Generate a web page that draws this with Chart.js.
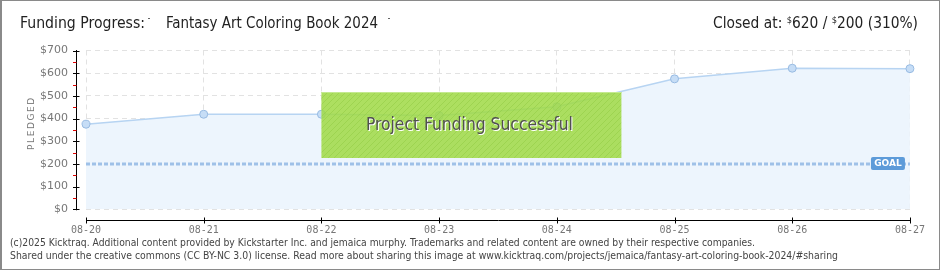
<!DOCTYPE html>
<html><head><meta charset="utf-8">
<script src="https://cdn.jsdelivr.net/npm/chart.js@4/dist/chart.umd.min.js"></script>
<style>
html,body{margin:0;padding:0;background:#fff;}
#wrap{position:relative;width:940px;height:270px;overflow:hidden;background:#fff;}
#c{position:absolute;left:0;top:0;}
.frame{position:absolute;left:0;top:0;width:940px;height:270px;box-sizing:border-box;border:1px solid #8a8a8a;border-left:2px solid #8a8a8a;pointer-events:none;}
.t{position:absolute;white-space:nowrap;transform-origin:0 0;}
.title{font-family:"DejaVu Sans Condensed","DejaVu Sans",sans-serif;font-size:15px;color:#222;top:14px;}
.title sup{font-size:9px;vertical-align:5px;}
.mark{position:absolute;width:2px;height:1px;background:#666;top:18px;}
.foot{font-family:"DejaVu Sans",sans-serif;font-size:10.5px;color:#444;left:10px;}
#pl{position:absolute;left:26px;top:150px;transform:rotate(-90deg);transform-origin:0 0;font-family:"DejaVu Sans",sans-serif;font-size:9px;letter-spacing:1.6px;color:#777;white-space:nowrap;}
</style></head>
<body>
<div id="wrap">
<canvas id="c" width="940" height="270"></canvas>
<div class="t title" data-w="125" style="left:20px;">Funding Progress:</div>
<div class="mark" style="left:148px;"></div>
<div class="t title" data-w="212" style="left:166px;">Fantasy Art Coloring Book 2024</div>
<div class="mark" style="left:388px;"></div>
<div class="t title" id="closed" data-w="205" style="left:713px;">Closed at: <sup>$</sup>620 / <sup>$</sup>200 (310%)</div>
<div id="pl">PLEDGED</div>
<div class="t foot" data-w="745" style="top:236px;">(c)2025 Kicktraq. Additional content provided by Kickstarter Inc. and jemaica murphy. Trademarks and related content are owned by their respective companies.</div>
<div class="t foot" data-w="828" style="top:249px;">Shared under the creative commons (CC BY-NC 3.0) license. Read more about sharing this image at www.kicktraq.com/projects/jemaica/fantasy-art-coloring-book-2024/#sharing</div>
<div class="frame"></div>
</div>
<script>
// ---- data ----
const dates = ['08-20','08-21','08-22','08-23','08-24','08-25','08-26','08-27'];
const pledged = [375, 419, 419, 413, 452, 575, 622, 620];
const goal = 200;
const yMin = 0, yMax = 700, yStep = 100;
const goalLabel = 'GOAL';
const bannerText = 'Project Funding Successful';
const bannerStartIndex = 2;

// fit text widths
document.querySelectorAll('[data-w]').forEach(el=>{
  const w = el.getBoundingClientRect().width;
  const target = +el.dataset.w;
  el.style.transform = 'scaleX(' + (target / w) + ')';
});

const goalSeries = dates.map(() => goal);

function hatch(){
  const p = document.createElement('canvas'); p.width = 6; p.height = 6;
  const g = p.getContext('2d');
  g.fillStyle = 'rgba(160,218,70,0.86)'; g.fillRect(0,0,6,6);
  g.strokeStyle = 'rgba(140,200,60,0.45)'; g.lineWidth = 1;
  g.beginPath(); g.moveTo(0,6); g.lineTo(6,0); g.moveTo(-3,3); g.lineTo(3,-3); g.moveTo(3,9); g.lineTo(9,3); g.stroke();
  return p;
}

const deco = {
  id:'deco',
  afterDatasetsDraw(chart){
    const {ctx, chartArea:a, scales:{x, y}} = chart;
    // banner
    const bx = x.getPixelForValue(bannerStartIndex);
    const bw = 300, by = a.top + 41.5, bh = 66;
    ctx.save();
    ctx.fillStyle = ctx.createPattern(hatch(), 'repeat');
    ctx.fillRect(bx, by, bw, bh);
    ctx.strokeStyle = 'rgba(200,235,150,0.9)'; ctx.lineWidth = 1;
    ctx.beginPath(); ctx.moveTo(bx, by+0.5); ctx.lineTo(bx+bw, by+0.5); ctx.stroke();
    ctx.font = '17px "DejaVu Sans Condensed", "DejaVu Sans", sans-serif';
    ctx.textAlign = 'center'; ctx.textBaseline = 'middle';
    const cx = bx + bw/2 - 2, cy = by + bh/2 + 1;
    const tw = ctx.measureText(bannerText).width;
    const sx = 207 / tw;
    ctx.translate(cx, cy); ctx.scale(sx, 1);
    ctx.fillStyle = '#ffffff'; ctx.fillText(bannerText, 1, 1);
    ctx.fillStyle = '#505050'; ctx.fillText(bannerText, 0, 0);
    ctx.restore();
    // goal label
    const gy = y.getPixelForValue(goal);
    ctx.save();
    ctx.fillStyle = '#5D9BD9';
    const lx = a.right - 39, lw = 34, lh = 13;
    ctx.beginPath(); ctx.roundRect(lx, gy - 7, lw, lh, 2); ctx.fill();
    ctx.fillStyle = '#fff'; ctx.font = 'bold 9px "DejaVu Sans", sans-serif';
    ctx.textAlign = 'center'; ctx.textBaseline = 'middle';
    ctx.fillText(goalLabel, lx + lw/2, gy - 0.5);
    ctx.restore();
  },
  afterDraw(chart){
    const {ctx, chartArea:a, scales:{x, y}} = chart;
    ctx.save();
    ctx.strokeStyle = '#000'; ctx.lineWidth = 1;
    // y axis
    const ax = Math.round(a.left - 10) + 0.5;
    ctx.beginPath(); ctx.moveTo(ax, y.getPixelForValue(yMax) - 0.5); ctx.lineTo(ax, y.getPixelForValue(yMin) + 1); ctx.stroke();
    y.ticks.forEach(t => {
      const py = Math.round(y.getPixelForValue(t.value)) + 0.5;
      ctx.strokeStyle = '#000';
      ctx.beginPath(); ctx.moveTo(ax - 3.5, py); ctx.lineTo(ax + 3, py); ctx.stroke();
      if (t.value < yMax) {
        const my = Math.round(y.getPixelForValue(t.value + yStep/2)) + 0.5;
        ctx.strokeStyle = '#e00000';
        ctx.beginPath(); ctx.moveTo(ax - 3.5, my); ctx.lineTo(ax, my); ctx.stroke();
      }
    });
    // x axis
    const ay = Math.round(a.bottom + 10.5) + 0.5;
    ctx.strokeStyle = '#000';
    ctx.beginPath(); ctx.moveTo(a.left, ay); ctx.lineTo(a.right + 1, ay); ctx.stroke();
    x.ticks.forEach((t, i) => {
      const px = Math.round(x.getPixelForValue(i)) + 0.5;
      ctx.beginPath(); ctx.moveTo(px, ay - 3); ctx.lineTo(px, ay + 3); ctx.stroke();
    });
    ctx.restore();
  }
};

new Chart(document.getElementById('c'), {
  type:'line',
  data:{
    labels: dates,
    datasets:[
      {
        data: pledged, order:1,
        borderColor:'#B7D4F2', borderWidth:1.5,
        backgroundColor:'#EDF5FD', fill:'origin', tension:0,
        pointRadius:4, pointBackgroundColor:'#C6DDF6', pointBorderColor:'#98BBE2', pointBorderWidth:1
      },
      {
        data: goalSeries, order:0,
        borderColor:'#9FC1E8', borderWidth:3, borderDash:[4,2],
        pointRadius:0, fill:false, tension:0
      }
    ]
  },
  options:{
    responsive:false, animation:false, devicePixelRatio:1,
    layout:{padding:{left:0, right:30, top:50.5, bottom:0}},
    plugins:{legend:{display:false}, tooltip:{enabled:false}, title:{display:false}},
    scales:{
      x:{
        offset:false,
        grid:{color:'#E2E2E2', drawTicks:false},
        border:{display:false, dash:[5,4]},
        ticks:{padding:15, color:'#777', font:{family:'"DejaVu Sans Mono", monospace', size:10}, maxRotation:0},
        afterFit(s){ s.height = 270 - 209.3; }
      },
      y:{
        min:yMin, max:yMax,
        grid:{color:'#E2E2E2', drawTicks:false},
        border:{display:false, dash:[5,4]},
        ticks:{stepSize:yStep, padding:18, color:'#777', font:{family:'"DejaVu Sans", sans-serif', size:11},
               callback:v => '$' + v},
        afterFit(s){ s.width = 86; }
      }
    }
  },
  plugins:[deco]
});
</script>
</body></html>
